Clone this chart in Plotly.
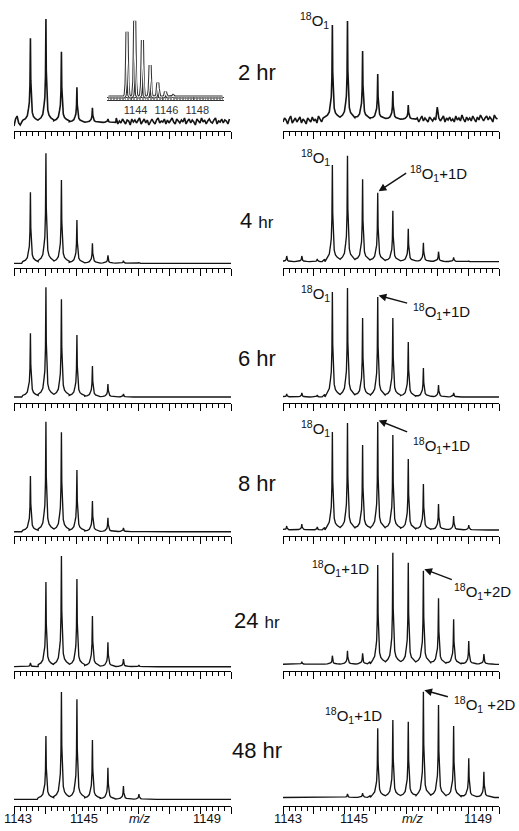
import plotly.graph_objects as go

W, H = 519, 831

# ---------------- data ----------------
# peak positions (m/z)
LEFT_MZ = [1143.53, 1144.03, 1144.53, 1145.03, 1145.53, 1146.03, 1146.53, 1147.03, 1147.53]
RIGHT_MZ = [1143.12, 1143.61, 1144.11, 1144.60, 1145.09, 1145.58, 1146.07,
            1146.56, 1147.06, 1147.55, 1148.04, 1148.53, 1149.02, 1149.51]
HOURS = ["2", "4", "6", "8", "24", "48"]

# peak-top intensities (relative units), left column
left_2hr = [92.7, 112, 79.3, 43.7, 23.3, 12, 0, 0, 0]
left_4hr = [75.7, 114.7, 88, 48, 24.7, 12.7, 7.3, 5.3, 0]
left_6hr = [69.7, 115.7, 103.7, 68, 37, 19, 9, 5, 0]
left_8hr = [60, 114.3, 103.7, 66, 35, 18.3, 8, 5, 0]
left_24hr = [8, 89, 115, 92, 55, 28.7, 12, 6, 0]
left_48hr = [0, 70, 114, 106.7, 66, 38.3, 20, 12, 5]

# right column
right_2hr = [0, 0, 0, 106, 110, 80, 57, 40, 26, 0, 0, 0, 0, 0]
right_4hr = [12, 12, 9, 103, 112.3, 88.7, 75.3, 57.3, 39.3, 25.3, 16.3, 10.7, 7, 0]
right_6hr = [9, 10, 8, 111, 115, 85, 106, 85, 61, 35, 18, 10, 6, 0]
right_8hr = [10, 12, 9, 104, 113, 91, 114, 101, 77, 52, 32, 20, 11, 0]
right_24hr = [0, 9.3, 0, 15.3, 20.3, 17.7, 106, 118.3, 108.3, 100.3, 72.7, 51.7, 30, 17]
right_48hr = [0, 0, 0, 0, 12, 13, 77.7, 86, 84.3, 114.3, 101, 80, 47.7, 34.3]

LEFT_BASE = [8.5, 4.7, 6, 4.3, 4.3, 6.7]
RIGHT_BASE = [11.5, 6.3, 6, 6, 6.7, 8.5]

# noisy baselines of the 2 hr spectra, m/z 1143.00 ... 1149.95 in steps of 0.05
NOISE_MZ = [round(1143.0 + 0.05 * i, 2) for i in range(140)]
left_2hr_noise = [5, 12, 15, 8, 6, 9, 5, 7, 10, 6, 8, 11, 7, 9, 12, 8, 6, 10, 8, 11,
                  9, 7, 12, 8, 10, 6, 9, 11, 7, 10, 8, 12, 9, 6, 11, 8, 10, 7, 13, 9,
                  8, 11, 6, 10, 9, 12, 7, 10, 8, 11, 9, 6, 12, 10, 7, 11, 8, 13, 9, 7,
                  10, 12, 8, 6, 11, 9, 13, 7, 10, 8, 12, 9, 7, 11, 10, 6, 12, 9, 11, 8,
                  10, 13, 7, 9, 12, 8, 11, 6, 10, 12, 9, 7, 11, 13, 8, 10, 9, 12, 7, 11,
                  8, 10, 13, 9, 7, 12, 10, 8, 11, 9, 13, 7, 10, 12, 8, 11, 9, 6, 12, 10,
                  8, 13, 9, 11, 7, 10, 12, 9, 8, 11, 13, 7, 10, 9, 12, 8, 11, 10, 7, 12]
right_2hr_noise = [9, 13, 11, 7, 12, 15, 8, 10, 13, 9, 11, 14, 8, 12, 10, 7, 13, 11, 9, 14,
                   10, 12, 8, 15, 11, 9, 13, 10, 12, 8, 14, 11, 9, 13, 16, 10, 12, 8, 11, 14,
                   12, 9, 13, 11, 15, 10, 8, 12, 14, 11, 9, 13, 10, 16, 12, 11, 14, 9, 12, 10,
                   13, 11, 15, 9, 12, 14, 10, 13, 11, 8, 12, 15, 10, 13, 9, 11, 14, 12, 10, 13,
                   11, 9, 20, 12, 10, 14, 11, 13, 9, 12, 15, 10, 13, 11, 9, 14, 12, 10, 13, 11,
                   24, 13, 10, 12, 15, 9, 13, 11, 14, 10, 12, 9, 15, 11, 13, 10, 16, 12, 9, 14,
                   11, 13, 10, 15, 12, 9, 14, 11, 16, 12, 10, 13, 15, 11, 14, 12, 9, 16, 13, 12]

# inset (theoretical isotope pattern)
INSET_MZ = [1143.70, 1144.20, 1144.70, 1145.20, 1145.70, 1146.20, 1146.70, 1147.20]
inset_int = [65.3, 76.3, 57, 32, 14.3, 5.3, 1.3, 0.5]

LEFT_PEAKS = [left_2hr, left_4hr, left_6hr, left_8hr, left_24hr, left_48hr]
RIGHT_PEAKS = [right_2hr, right_4hr, right_6hr, right_8hr, right_24hr, right_48hr]
LEFT_NOISE = [left_2hr_noise, None, None, None, None, None]
RIGHT_NOISE = [right_2hr_noise, None, None, None, None, None]

# ---------------- styling ----------------
PEAK_OFF = [-0.25, -0.16, -0.1, -0.06, -0.035, -0.015, 0, 0.012, 0.03, 0.06, 0.1, 0.16, 0.25]
PEAK_FRAC = [0.025, 0.045, 0.08, 0.17, 0.24, 0.45, 1, 0.5, 0.22, 0.12, 0.07, 0.045, 0.025]
INSET_OFF = [-0.2, -0.12, -0.06, -0.025, 0, 0.025, 0.06, 0.12, 0.2]
INSET_FRAC = [0, 0.03, 0.2, 0.6, 1, 0.6, 0.2, 0.03, 0]

AXIS_Y = [131, 268, 403, 536, 671, 806]
PANEL_H = 120
LEFT_X = (14, 231)
RIGHT_X = (283, 499)
FONT = "Liberation Sans, Arial, sans-serif"
LINE_COLOR = "#141414"


def px(x):
    return x / W


def py(y):
    return 1 - y / H


def spectrum(mz, tops, base, noise=None):
    xs, ys, windows = [], [], []
    for m, t in zip(mz, tops):
        if t <= base:
            continue
        amp = t - base
        for o, f in zip(PEAK_OFF, PEAK_FRAC):
            xs.append(m + o)
            ys.append(base + amp * f)
        windows.append((m + PEAK_OFF[0], m + PEAK_OFF[-1]))
    if noise is None:
        bx = [1143.0 + 0.05 * i for i in range(141)]
        by = [base] * len(bx)
    else:
        bx, by = NOISE_MZ, noise
    for x, y in zip(bx, by):
        if any(a <= x <= b for a, b in windows):
            continue
        xs.append(x)
        ys.append(y)
    order = sorted(range(len(xs)), key=lambda i: xs[i])
    return [xs[i] for i in order], [ys[i] for i in order]


fig = go.Figure()
layout = dict(
    width=W, height=H, margin=dict(l=0, r=0, t=0, b=0),
    paper_bgcolor="white", plot_bgcolor="rgba(0,0,0,0)",
    showlegend=False, font=dict(family=FONT, color="#111"),
)

annotations = []

for r in range(6):
    ya = AXIS_Y[r]
    ydom = [py(ya), py(ya - PANEL_H)]
    for c in range(2):
        n = 2 * r + c + 1
        xname = "x" if n == 1 else f"x{n}"
        yname = "y" if n == 1 else f"y{n}"
        mz = LEFT_MZ if c == 0 else RIGHT_MZ
        tops = LEFT_PEAKS[r] if c == 0 else RIGHT_PEAKS[r]
        base = LEFT_BASE[r] if c == 0 else RIGHT_BASE[r]
        noise = LEFT_NOISE[r] if c == 0 else RIGHT_NOISE[r]
        xs, ys = spectrum(mz, tops, base, noise)
        lw = 1.6 if noise is not None else 1.35
        fig.add_trace(go.Scatter(x=xs, y=ys, mode="lines", xaxis=xname, yaxis=yname,
                                 line=dict(color=LINE_COLOR, width=lw), hoverinfo="skip"))
        xd = LEFT_X if c == 0 else RIGHT_X
        layout["xaxis" if n == 1 else f"xaxis{n}"] = dict(
            domain=[px(xd[0]), px(xd[1])], range=[1143, 1150], anchor=yname,
            showline=True, linecolor="black", linewidth=1,
            tickmode="linear", tick0=1143, dtick=1, ticks="outside", ticklen=7,
            tickwidth=1, tickcolor="black", showticklabels=False,
            minor=dict(tick0=1143, dtick=0.2, ticks="outside", ticklen=4,
                       tickwidth=1, tickcolor="black", showgrid=False),
            showgrid=False, zeroline=False, fixedrange=True,
        )
        layout["yaxis" if n == 1 else f"yaxis{n}"] = dict(
            domain=ydom, range=[0, PANEL_H], anchor=xname, visible=False, fixedrange=True,
        )

# ---------------- inset ----------------
ix, iy = [], []
for m, t in zip(INSET_MZ, inset_int):
    for o, f in zip(INSET_OFF, INSET_FRAC):
        ix.append(m + o)
        iy.append(t * f)
ix = [1142.5] + ix + [1149.9]
iy = [0] + iy + [0]
fig.add_trace(go.Scatter(x=ix, y=iy, mode="lines", xaxis="x13", yaxis="y13",
                         line=dict(color="#333", width=3.2), hoverinfo="skip"))
fig.add_trace(go.Scatter(x=ix, y=iy, mode="lines", xaxis="x13", yaxis="y13",
                         line=dict(color="white", width=1.1), hoverinfo="skip"))
layout["xaxis13"] = dict(
    domain=[px(107), px(224)], range=[1142.4, 1150.0], anchor="y13",
    showline=True, linecolor="#333", linewidth=1,
    tickmode="array", tickvals=[1144, 1146, 1148], ticktext=["1144", "1146", "1148"],
    ticks="inside", ticklen=3, tickcolor="#555", tickwidth=1,
    minor=dict(dtick=0.1, tick0=1142.4, ticks="inside", ticklen=3, tickcolor="#777", tickwidth=0.8),
    tickfont=dict(size=11, color="#333", family=FONT), ticklabelshift=4,
    showgrid=False, zeroline=False, fixedrange=True,
)
layout["yaxis13"] = dict(
    domain=[py(100), py(16)], range=[-3, 81], anchor="x13", showgrid=False,
    showticklabels=False, showline=False, ticks="",
    zeroline=True, zerolinecolor="#333", zerolinewidth=1, fixedrange=True,
)

# ---------------- bottom tick labels ----------------
for cx, t in [(18, "1143"), (84, "1145"), (139, "<i>m/z</i>"), (207, "1149"),
              (288, "1143"), (354, "1145"), (412, "<i>m/z</i>"), (478, "1149")]:
    annotations.append(dict(xref="paper", yref="paper", x=px(cx), y=py(818), text=t,
                            showarrow=False, xanchor="center", yanchor="middle",
                            font=dict(size=13, family=FONT, color="#111")))

# ---------------- hour labels ----------------
HOUR_Y = [73, 220, 358, 483, 620, 750]
SMALL_HR = {"4", "24"}
for h, yy in zip(HOURS, HOUR_Y):
    if h in SMALL_HR:
        txt = f'{h} <span style="font-size:17px">hr</span>'
    else:
        txt = f"{h} hr"
    annotations.append(dict(xref="paper", yref="paper", x=px(257), y=py(yy), text=txt,
                            showarrow=False, xanchor="center", yanchor="middle",
                            font=dict(size=22, family=FONT, color="#111")))

# ---------------- peak labels ----------------
O18 = "<sup>18</sup>O<sub>1</sub>"
LABELS = [
    (314, 20, O18), (315, 158, O18), (315, 293, O18), (315, 428, O18),
    (438, 173, O18 + "+1D"), (441, 311, O18 + "+1D"), (441, 445, O18 + "+1D"),
    (340, 568, O18 + "+1D"), (482, 591, O18 + "+2D"),
    (353, 715, O18 + "+1D"), (484, 704, O18 + " +2D"),
]
for cx, cy, t in LABELS:
    annotations.append(dict(xref="paper", yref="paper", x=px(cx), y=py(cy), text=t,
                            showarrow=False, xanchor="center", yanchor="middle",
                            font=dict(size=15, family=FONT, color="#111")))

# arrows: (row, peak index, tail dx, tail dy)
ARROWS = [(1, 6, 29, -19), (2, 6, 30, 8), (3, 6, 30, 12), (4, 9, 29, 11), (5, 9, 25, 7)]
for r, k, dx, dy in ARROWS:
    n = 2 * r + 2
    annotations.append(dict(xref=f"x{n}", yref=f"y{n}", x=RIGHT_MZ[k] + 0.03,
                            y=RIGHT_PEAKS[r][k] + 1.5, ax=dx, ay=dy, text="",
                            showarrow=True, arrowhead=2, arrowsize=1.1, arrowwidth=1.4,
                            arrowcolor="#111", standoff=0))

layout["annotations"] = annotations
fig.update_layout(**layout)
fig.write_html("out.html", config={"displayModeBar": False, "staticPlot": True},
               post_script="document.body.style.margin='0px';document.body.style.overflow='hidden';")
